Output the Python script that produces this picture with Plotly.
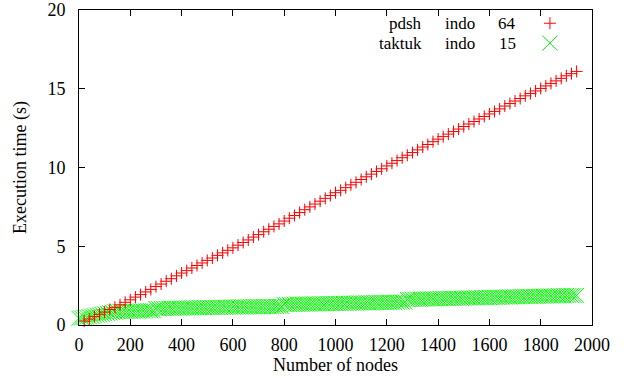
import plotly.graph_objects as go

# ---- data ----
pdsh_nodes = list(range(20, 1941, 20))
pdsh_time = [0.25, 0.38, 0.53, 0.68, 0.82, 0.98, 1.12, 1.28, 1.44, 1.60,
             1.77, 1.93, 2.10, 2.26, 2.44, 2.60, 2.78, 2.94, 3.12, 3.30,
             3.45, 3.62, 3.78, 3.94, 4.10, 4.25, 4.42, 4.58, 4.74, 4.90,
             5.07, 5.24, 5.40, 5.58, 5.74, 5.92, 6.08, 6.26, 6.42, 6.60,
             6.78, 6.95, 7.14, 7.32, 7.50, 7.68, 7.86, 8.04, 8.22, 8.40,
             8.55, 8.72, 8.90, 9.06, 9.24, 9.41, 9.58, 9.75, 9.92, 10.10,
             10.27, 10.44, 10.62, 10.78, 10.95, 11.12, 11.30, 11.46, 11.64, 11.80,
             11.96, 12.12, 12.28, 12.44, 12.60, 12.76, 12.92, 13.08, 13.24, 13.40,
             13.56, 13.72, 13.90, 14.06, 14.22, 14.38, 14.55, 14.70, 14.86, 15.02,
             15.18, 15.34, 15.50, 15.66, 15.82, 15.96, 16.10]

taktuk_nodes = list(range(0, 1941, 10))
taktuk_time = [0.42, 0.45, 0.48, 0.50, 0.53, 0.56, 0.59, 0.62, 0.65, 0.68,
               0.71, 0.74, 0.77, 0.80, 0.83, 0.85, 0.86, 0.86, 0.87, 0.87,
               0.87, 0.88, 0.88, 0.88, 0.89, 0.89, 0.89, 0.90, 0.90, 0.90,
               1.04, 1.04, 1.05, 1.05, 1.05, 1.06, 1.06, 1.06, 1.07, 1.07,
               1.07, 1.08, 1.08, 1.08, 1.09, 1.09, 1.09, 1.10, 1.10, 1.10,
               1.11, 1.11, 1.11, 1.12, 1.12, 1.12, 1.13, 1.13, 1.13, 1.14,
               1.14, 1.14, 1.14, 1.15, 1.15, 1.15, 1.15, 1.16, 1.16, 1.16,
               1.16, 1.16, 1.17, 1.17, 1.17, 1.17, 1.17, 1.18, 1.18, 1.18,
               1.30, 1.30, 1.31, 1.31, 1.31, 1.32, 1.32, 1.32, 1.33, 1.33,
               1.33, 1.34, 1.34, 1.34, 1.35, 1.35, 1.35, 1.36, 1.36, 1.36,
               1.37, 1.37, 1.37, 1.38, 1.38, 1.38, 1.39, 1.39, 1.39, 1.40,
               1.40, 1.40, 1.41, 1.41, 1.41, 1.42, 1.42, 1.42, 1.43, 1.43,
               1.43, 1.44, 1.44, 1.44, 1.45, 1.45, 1.45, 1.46,
               1.62, 1.62, 1.63, 1.63, 1.64, 1.64, 1.64, 1.65, 1.65, 1.66,
               1.66, 1.66, 1.67, 1.67, 1.68, 1.68, 1.68, 1.69, 1.69, 1.70,
               1.70, 1.70, 1.71, 1.71, 1.72, 1.72, 1.72, 1.73, 1.73, 1.74,
               1.74, 1.74, 1.75, 1.75, 1.76, 1.76, 1.76, 1.77, 1.77, 1.78,
               1.78, 1.78, 1.79, 1.79, 1.80, 1.80, 1.80, 1.81, 1.81, 1.82,
               1.82, 1.82, 1.83, 1.83, 1.84, 1.84, 1.84, 1.85, 1.85, 1.86,
               1.86, 1.86, 1.87, 1.87, 1.88, 1.88, 1.88]

legend_rows = [["pdsh", "indo", "64"], ["taktuk", "indo", "15"]]
x_ticks = list(range(0, 2001, 200))
y_ticks = [0, 5, 10, 15, 20]

RED = "#ff0000"
GREEN = "#00ff00"
FONT = "Liberation Serif"

fig = go.Figure()
fig.add_trace(go.Scatter(x=taktuk_nodes, y=taktuk_time, mode="markers",
                         marker=dict(symbol="x-thin", size=15, line=dict(color=GREEN, width=1)),
                         showlegend=False, cliponaxis=False))
fig.add_trace(go.Scatter(x=pdsh_nodes, y=pdsh_time, mode="markers",
                         marker=dict(symbol="cross-thin", size=8.6, line=dict(color=RED, width=1)),
                         showlegend=False, cliponaxis=False))

# legend samples on an overlay axis (0..1)
row_y = [0.958, 0.895]
fig.add_trace(go.Scatter(x=[0.918], y=[row_y[0]], mode="markers", xaxis="x2", yaxis="y2",
                         marker=dict(symbol="cross-thin", size=8.6, line=dict(color=RED, width=1)),
                         showlegend=False, hoverinfo="skip"))
fig.add_trace(go.Scatter(x=[0.918], y=[row_y[1]], mode="markers", xaxis="x2", yaxis="y2",
                         marker=dict(symbol="x-thin", size=15, line=dict(color=GREEN, width=1)),
                         showlegend=False, hoverinfo="skip"))

ann = []
for (name, host, num), yy in zip(legend_rows, row_y):
    for txt, xx, anc in ((name, 0.6706, "right"), (host, 0.7115, "left"), (num, 0.8538, "right")):
        ann.append(dict(x=xx, y=yy, xref="paper", yref="paper", text=txt, showarrow=False,
                        xanchor=anc, yanchor="middle", borderpad=0,
                        font=dict(family=FONT, size=17, color="black")))

axis_common = dict(showline=True, linecolor="black", linewidth=1, mirror="ticks",
                   ticks="inside", ticklen=6, tickcolor="black", tickwidth=1,
                   showgrid=False, zeroline=False, automargin=False,
                   tickfont=dict(family=FONT, size=18, color="black"))

fig.update_layout(
    width=626, height=378,
    margin=dict(l=79, r=34, t=10, b=53),
    paper_bgcolor="white", plot_bgcolor="white",
    font=dict(family=FONT, size=18, color="black"),
    xaxis=dict(range=[0, 2000], tickvals=x_ticks, ticktext=[str(v) for v in x_ticks],
               title=dict(text="Number of nodes", standoff=4,
                          font=dict(family=FONT, size=18, color="black")),
               ticklabelstandoff=3, **axis_common),
    yaxis=dict(range=[0, 20], tickvals=y_ticks, ticktext=[str(v) for v in y_ticks],
               title=dict(text="Execution time (s)", standoff=16,
                          font=dict(family=FONT, size=18, color="black")),
               ticklabelstandoff=9, **axis_common),
    xaxis2=dict(range=[0, 1], overlaying="x", visible=False),
    yaxis2=dict(range=[0, 1], overlaying="y", visible=False),
    annotations=ann,
    showlegend=False,
)

fig.write_html("out.html")
